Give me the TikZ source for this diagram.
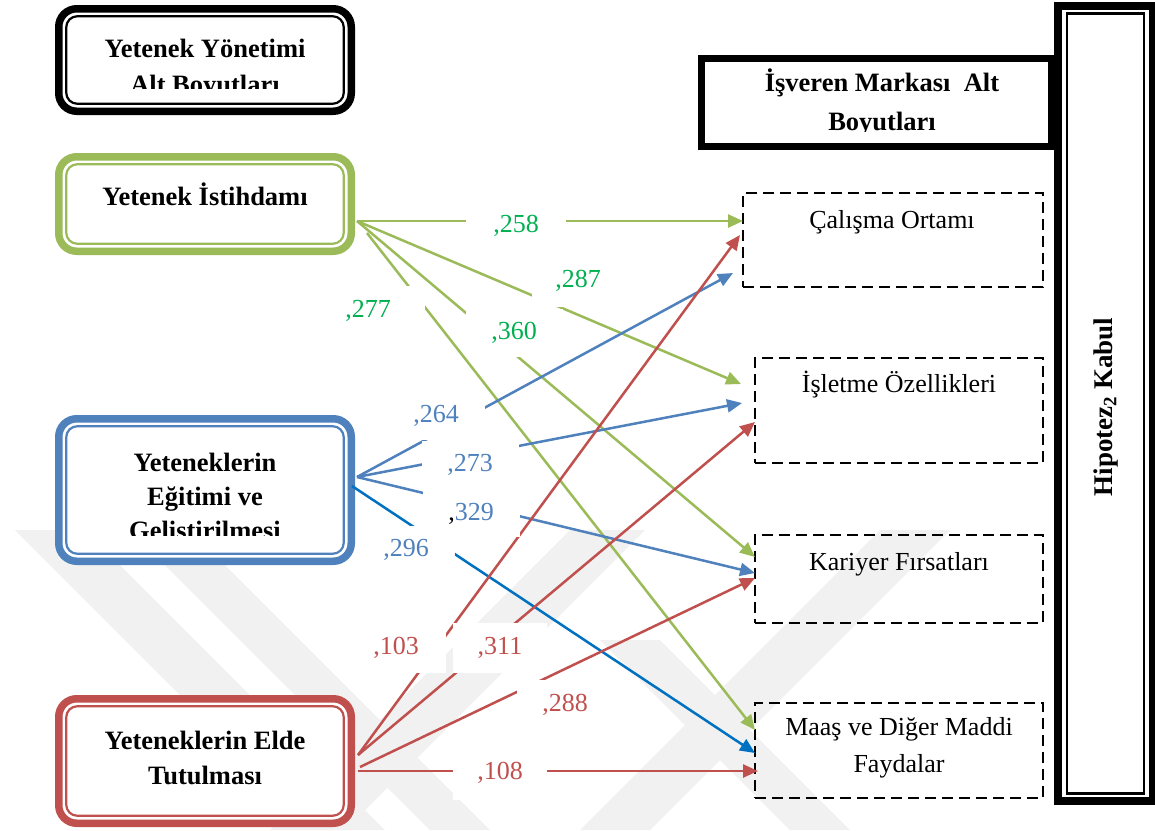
\documentclass[tikz,border=0pt]{standalone}
\usepackage{fontspec}
\setmainfont{Liberation Serif}
\usetikzlibrary{arrows.meta}

\definecolor{ygreen}{HTML}{9BBB59}
\definecolor{ygreentxt}{HTML}{00B050}
\definecolor{yblue}{HTML}{4F81BD}
\definecolor{ybright}{HTML}{0070C0}
\definecolor{yred}{HTML}{C0504D}
\definecolor{wmark}{HTML}{F1F1F1}

\tikzset{
  frame/.style={draw=#1, line width=7.5pt, rounded corners=18pt, outer sep=0pt, inner sep=0pt, fill=white},
  framein/.style={draw=#1, line width=2.2pt, rounded corners=11pt},
  boldtxt/.style={font=\fontsize{26.5}{32}\selectfont\bfseries, anchor=base, inner sep=0pt},
  plaintxt/.style={font=\fontsize{26}{32}\selectfont, anchor=base, inner sep=0pt},
  dbox/.style={draw, line width=2.5pt, dash pattern=on 11pt off 6pt, outer sep=0pt, inner sep=0pt},
  conn/.style={draw=#1, line width=2.5pt, -{Triangle[length=15pt,width=13pt]}},
  val/.style={fill=white, text=#1, font=\fontsize{26}{30}\selectfont, minimum width=97pt, minimum height=48pt, inner sep=0pt},
}

\begin{document}
\begin{tikzpicture}[x=1pt,y=-1pt]
\useasboundingbox (0,0) rectangle (1155,830);
\fill[white] (0,0) rectangle (1155,830);

% faint background watermark bands
\begin{scope}
  \clip (0,530) rectangle (1155,830);
  \fill[wmark] (15,530) -- (85,530) -- (385,830) -- (315,830) -- cycle;
  \fill[wmark] (130,530) -- (190,530) -- (490,830) -- (430,830) -- cycle;
  \fill[wmark] (570,530) -- (645,530) -- (345,830) -- (270,830) -- cycle;
  \fill[wmark] (880,530) -- (950,530) -- (650,830) -- (580,830) -- cycle;
  \fill[wmark] (600,640) -- (660,640) -- (850,830) -- (790,830) -- cycle;
\end{scope}

% ---- left column: talent management sub-dimensions ----
\node[frame=black, minimum width=292.5pt, minimum height=102.5pt] (ymgt) at (205,60) {};
\draw[framein=black] ([shift={(7.5pt,-7.5pt)}]ymgt.north west) rectangle ([shift={(-7.5pt,7.5pt)}]ymgt.south east);
\begin{scope}
  \clip (66,16) rectangle (344,88);
  \node[boldtxt] (ymgt1) at (205,57) {Yetenek Yönetimi};
  \node[boldtxt] (ymgt2) at (205,93) {Alt Boyutları};
\end{scope}

\node[frame=ygreen, minimum width=292.5pt, minimum height=94.5pt] (yist) at (205,204) {};
\draw[framein=ygreen] ([shift={(7.5pt,-7.5pt)}]yist.north west) rectangle ([shift={(-7.5pt,7.5pt)}]yist.south east);
\node[boldtxt] (yistt) at (205,205) {Yetenek İstihdamı};

\node[frame=yblue, minimum width=292.5pt, minimum height=142.5pt] (yegt) at (205,490) {};
\draw[framein=yblue] ([shift={(7.5pt,-7.5pt)}]yegt.north west) rectangle ([shift={(-7.5pt,7.5pt)}]yegt.south east);
\begin{scope}
  \clip (66,426) rectangle (344,535);
  \node[boldtxt] (yegt1) at (205,471) {Yeteneklerin};
  \node[boldtxt] (yegt2) at (205,505) {Eğitimi ve};
  \node[boldtxt] (yegt3) at (205,539) {Geliştirilmesi};
\end{scope}

\node[frame=yred, minimum width=292.5pt, minimum height=124.5pt] (yelt) at (205,761) {};
\draw[framein=yred] ([shift={(7.5pt,-7.5pt)}]yelt.north west) rectangle ([shift={(-7.5pt,7.5pt)}]yelt.south east);
\node[boldtxt] (yelt1) at (205,749) {Yeteneklerin Elde};
\node[boldtxt] (yelt2) at (205,784) {Tutulması};

% ---- right column: employer brand sub-dimensions ----
\node[draw, line width=7pt, fill=white, outer sep=0pt, inner sep=0pt, minimum width=350pt, minimum height=88pt] (imark) at (876.5,102.5) {};
\begin{scope}
  \clip (706,62) rectangle (1050,131);
  \node[boldtxt] (imark1) at (882,91) {İşveren Markası\ \ Alt};
  \node[boldtxt] (imark2) at (882,130) {Boyutları};
\end{scope}

\node[dbox, minimum width=300pt, minimum height=94pt] (cal) at (893,240) {};
\node[plaintxt] (calt) at (892,228) {Çalışma Ortamı};
\node[dbox, minimum width=288pt, minimum height=105pt] (isl) at (899,410.5) {};
\node[plaintxt] (islt) at (899,392) {İşletme Özellikleri};
\node[dbox, minimum width=288pt, minimum height=88pt] (kar) at (899,579) {};
\node[plaintxt] (kart) at (899,570) {Kariyer Fırsatları};
\node[dbox, minimum width=288pt, minimum height=95pt] (maas) at (899,750.5) {};
\node[plaintxt] (maas1) at (899,735) {Maaş ve Diğer Maddi};
\node[plaintxt] (maas2) at (899,772) {Faydalar};

% ---- hypothesis frame ----
\node[draw, line width=8pt, fill=white, outer sep=0pt, inner sep=0pt, minimum width=95pt, minimum height=795pt] (hip) at (1105.5,403.5) {};
\draw[line width=2.2pt] ([shift={(9pt,-7.5pt)}]hip.north west) rectangle ([shift={(-9pt,7.5pt)}]hip.south east);
\node[font=\fontsize{27}{32}\selectfont\bfseries, rotate=90, inner sep=0pt] (hipt) at (1106,407) {Hipotez\textsubscript{2} Kabul};

% ---- connector end points ----
\coordinate (gs) at (357,221);
\coordinate (gs2) at (367,233);
\coordinate (bs) at (357,477);
\coordinate (bs2) at (352,486);
\coordinate (rs) at (358,755);
\coordinate (rs2) at (360,767);
\coordinate (rs3) at (358,771);
\coordinate (cal-g) at (743,221);
\coordinate (cal-b) at (733,273);
\coordinate (cal-r) at (740,235);
\coordinate (isl-g) at (741,384);
\coordinate (isl-b) at (742,403);
\coordinate (isl-r) at (755,422);
\coordinate (kar-g) at (755,557);
\coordinate (kar-b) at (755,573);
\coordinate (kar-r) at (755,578);
\coordinate (maas-g) at (755,730);
\coordinate (maas-b) at (755,753);
\coordinate (maas-r) at (758,771);

% ---- connectors ----
\draw[conn=ygreen] (gs) -- (cal-g);
\draw[conn=ygreen] (gs) -- (isl-g);
\draw[conn=ygreen] (gs) -- (kar-g);
\draw[conn=ygreen] (gs2) -- (maas-g);
\draw[conn=yblue] (bs) -- (cal-b);
\draw[conn=yblue] (bs) -- (isl-b);
\draw[conn=yblue] (bs) -- (kar-b);
\draw[conn=ybright] (bs2) -- (maas-b);
\draw[conn=yred] (rs) -- (cal-r);
\draw[conn=yred] (rs) -- (isl-r);
\draw[conn=yred] (rs2) -- (kar-r);
\draw[conn=yred] (rs3) -- (maas-r);

% ---- coefficient labels ----
\node[val=ygreentxt, minimum width=100pt] (v258) at (516,226) {,258};
\node[val=ygreentxt, minimum width=93pt, minimum height=52pt] (v287) at (578,281) {,287};
\node[val=ygreentxt] (v360) at (514,333) {,360};
\node[val=ygreentxt, minimum width=114pt, minimum height=50pt] (v277) at (368,311) {,277};
\node[val=yblue] (v264) at (436,416) {,264};
\node[val=yblue] (v273) at (470,465) {,273};
\node[val=yblue, minimum height=46pt] (v329) at (471,514) {{\color{black},}329};
\node[val=yblue] (v296) at (406,550) {,296};
\node[val=yred, minimum width=100pt, minimum height=50pt] (v103) at (396,648) {,103};
\node[val=yred, minimum width=94pt, minimum height=50pt] (v311) at (500,648) {,311};
\node[val=yred, minimum width=96pt, minimum height=50pt] (v288) at (565,705) {,288};
\node[val=yred, minimum width=94pt, minimum height=53pt] (v108) at (500,773) {,108};
\end{tikzpicture}
\end{document}
